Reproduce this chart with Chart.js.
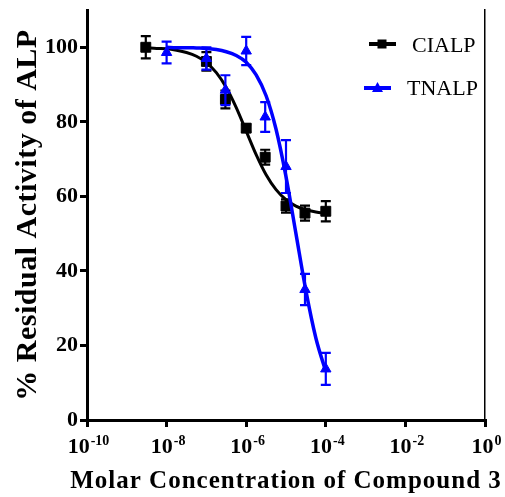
<!DOCTYPE html>
<html>
<head>
<meta charset="utf-8">
<script src="https://cdn.jsdelivr.net/npm/chart.js@4.4.1/dist/chart.umd.min.js"></script>
<style>
  body { margin: 0; background: #fff; }
</style>
</head>
<body>
<canvas id="alpChart" width="505" height="497"></canvas>
<script>
const xTickExps = [-10, -8, -6, -4, -2, 0];
const yTicks = [0, 20, 40, 60, 80, 100];

// measured points (mean +/- error)
const cialpConc = [3e-9, 1e-7, 3e-7, 1e-6, 3e-6, 1e-5, 3e-5, 1e-4];
const cialpMean = [100, 96.2, 86, 78.3, 70.5, 57.4, 55.5, 56];
const cialpErr = [3, 2.5, 2.4, 1, 2, 1.8, 2, 2.7];
const tnalpConc = [1e-8, 1e-7, 3e-7, 1e-6, 3e-6, 1e-5, 3e-5, 1e-4];
const tnalpMean = [98.6, 97, 88.5, 99, 81.3, 68, 35, 13.7];
const tnalpErr = [2.9, 3, 4, 3.8, 4, 7.1, 4.2, 4.3];

// fitted curves (log10 of concentration)
const cialpFitLogX = [-8.5, -8.25, -8, -7.75, -7.5, -7.25, -7, -6.75, -6.5, -6.25, -6, -5.75, -5.5, -5.25, -5, -4.75, -4.5, -4.25, -4];
const cialpFit = [99.9, 99.7, 99.6, 99.2, 98.6, 97.6, 95.9, 93.2, 89.2, 83.8, 77.5, 71.2, 65.8, 61.8, 59.1, 57.4, 56.4, 55.8, 55.4];
const tnalpFitLogX = [-8, -7.75, -7.5, -7.25, -7, -6.75, -6.5, -6.25, -6, -5.75, -5.5, -5.25, -5, -4.75, -4.5, -4.25, -4];
const tnalpFit = [100, 99.9, 99.9, 99.8, 99.7, 99.4, 98.8, 97.8, 96, 92.6, 87, 78, 65.3, 50, 34.7, 22, 13];

const xTitle = 'Molar Concentration of Compound 3';
const yTitle = '% Residual Activity of ALP';
const serif = "'Liberation Serif', 'Times New Roman', serif";
const blue = '#0000ff';

const pts = (xs, ys) => xs.map((x, i) => ({x: x, y: ys[i]}));
const logPts = (ls, ys) => ls.map((l, i) => ({x: Math.pow(10, l), y: ys[i]}));

const errorBars = {
  id: 'errorBars',
  beforeDatasetDraw(chart, args) {
    const ds = chart.data.datasets[args.index];
    if (!ds.errors) return;
    const ctx = chart.ctx, xs = chart.scales.x, ys = chart.scales.y;
    ctx.save();
    ctx.strokeStyle = ds.borderColor;
    ctx.lineWidth = 2.2;
    ds.data.forEach((p, i) => {
      const x = xs.getPixelForValue(p.x);
      const top = ys.getPixelForValue(p.y + ds.errors[i]);
      const bot = ys.getPixelForValue(p.y - ds.errors[i]);
      ctx.beginPath();
      ctx.moveTo(x, top); ctx.lineTo(x, bot);
      ctx.moveTo(x - 5, top); ctx.lineTo(x + 5, top);
      ctx.moveTo(x - 5, bot); ctx.lineTo(x + 5, bot);
      ctx.stroke();
    });
    ctx.restore();
  }
};

const textBits = {
  id: 'textBits',
  afterDraw(chart) {
    const ctx = chart.ctx, xs = chart.scales.x;
    const {top, bottom, right} = chart.chartArea;
    ctx.save();
    ctx.fillStyle = '#000';
    ctx.textBaseline = 'alphabetic';
    ctx.textAlign = 'left';

    // x tick labels 10^n
    xTickExps.forEach(e => {
      const x = xs.getPixelForValue(Math.pow(10, e));
      const sup = String(e);
      ctx.font = 'bold 22px ' + serif;
      const w1 = ctx.measureText('10').width;
      ctx.font = 'bold 14px ' + serif;
      const w2 = ctx.measureText(sup).width;
      const x0 = x - (w1 + w2) / 2 + 1;
      ctx.font = 'bold 22px ' + serif;
      ctx.fillText('10', x0, bottom + 33);
      ctx.font = 'bold 14px ' + serif;
      ctx.fillText(sup, x0 + w1 + 1, bottom + 25);
    });

    // axis titles
    ctx.font = 'bold 25px ' + serif;
    ctx.textAlign = 'center';
    ctx.letterSpacing = '1px';
    ctx.fillText(xTitle, (xs.left + xs.right) / 2, bottom + 68);
    ctx.save();
    ctx.translate(36, 215);
    ctx.rotate(-Math.PI / 2);
    ctx.font = 'bold 30px ' + serif;
    ctx.letterSpacing = '0.5px';
    ctx.fillText(yTitle, 0, 0);
    ctx.restore();
    ctx.letterSpacing = '0px';

    // legend
    ctx.textAlign = 'left';
    ctx.font = '22px ' + serif;
    ctx.lineWidth = 4;
    ctx.strokeStyle = '#000';
    ctx.beginPath(); ctx.moveTo(right - 116, top + 34); ctx.lineTo(right - 89, top + 34); ctx.stroke();
    ctx.fillRect(right - 107.5, top + 29.5, 9, 9);
    ctx.fillText('CIALP', right - 73, top + 42);

    ctx.strokeStyle = blue;
    ctx.fillStyle = blue;
    ctx.beginPath(); ctx.moveTo(right - 121, top + 78); ctx.lineTo(right - 94, top + 78); ctx.stroke();
    ctx.beginPath();
    ctx.moveTo(right - 107.5, top + 72); ctx.lineTo(right - 102, top + 82); ctx.lineTo(right - 113, top + 82);
    ctx.closePath(); ctx.fill();
    ctx.fillStyle = '#000';
    ctx.fillText('TNALP', right - 78, top + 85);
    ctx.restore();
  }
};

const axisGrid = {display: true, drawOnChartArea: false, drawTicks: true, tickLength: 7, lineWidth: 3, color: '#000'};
const axisBorder = {display: true, color: '#000', width: 3};

new Chart(document.getElementById('alpChart'), {
  type: 'scatter',
  data: {
    datasets: [
      {
        label: 'TNALP',
        data: pts(tnalpConc, tnalpMean),
        errors: tnalpErr,
        pointStyle: 'triangle',
        pointRadius: 6,
        backgroundColor: blue,
        borderColor: blue,
        borderWidth: 1
      },
      {
        label: 'TNALP fit',
        data: logPts(tnalpFitLogX, tnalpFit),
        showLine: true,
        pointRadius: 0,
        borderColor: blue,
        borderWidth: 3.5,
        cubicInterpolationMode: 'monotone'
      },
      {
        label: 'CIALP',
        data: pts(cialpConc, cialpMean),
        errors: cialpErr,
        pointStyle: 'rect',
        pointRadius: 7,
        backgroundColor: '#000',
        borderColor: '#000',
        borderWidth: 1
      },
      {
        label: 'CIALP fit',
        data: logPts(cialpFitLogX, cialpFit),
        showLine: true,
        pointRadius: 0,
        borderColor: '#000',
        borderWidth: 3,
        cubicInterpolationMode: 'monotone'
      }
    ]
  },
  options: {
    responsive: false,
    animation: false,
    layout: {padding: {top: 10, right: 20, bottom: 0, left: 0}},
    scales: {
      x: {
        type: 'logarithmic',
        position: 'bottom',
        min: 1e-10,
        max: 1,
        afterBuildTicks: s => { s.ticks = xTickExps.map(e => ({value: Math.pow(10, e)})); },
        ticks: {display: false},
        grid: axisGrid,
        border: axisBorder,
        afterFit: s => { s.height = 77; s.paddingLeft = 0; s.paddingRight = 0; }
      },
      y: {
        type: 'linear',
        position: 'left',
        min: 0,
        max: 110,
        afterBuildTicks: s => { s.ticks = yTicks.map(v => ({value: v})); },
        ticks: {color: '#000', padding: 2, font: {family: serif, size: 22, weight: 'bold'}},
        grid: axisGrid,
        border: axisBorder,
        afterFit: s => { s.width = 87; s.paddingTop = 0; s.paddingBottom = 0; }
      },
      y2: {
        type: 'linear',
        position: 'right',
        min: 0,
        max: 110,
        ticks: {display: false},
        grid: {display: false},
        border: {display: true, color: '#000', width: 1.5},
        afterFit: s => { s.width = 0; s.paddingTop = 0; s.paddingBottom = 0; }
      }
    },
    plugins: {
      legend: {display: false},
      tooltip: {enabled: false}
    }
  },
  plugins: [errorBars, textBits]
});
</script>
</body>
</html>
